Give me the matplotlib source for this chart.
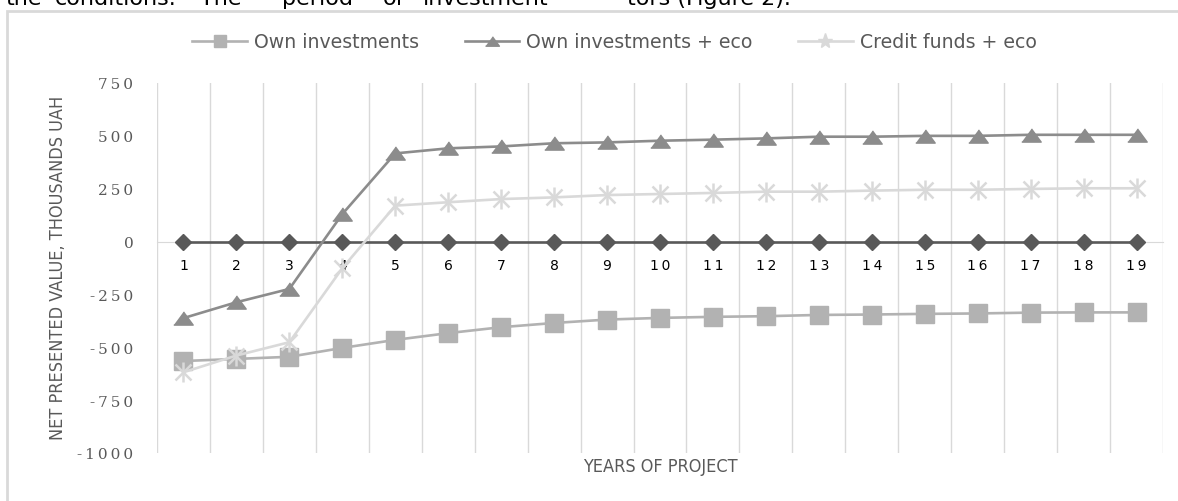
import numpy as np
import matplotlib
matplotlib.use('Agg')
import matplotlib.pyplot as plt
from matplotlib.patches import Rectangle
from matplotlib.lines import Line2D

years = list(range(1, 20))
own_inv = [-565, -555, -545, -503, -465, -433, -405, -385, -369, -361, -356, -353,
           -347, -345, -342, -340, -336, -335, -335]
own_inv_eco = [-362, -287, -224, 130, 417, 441, 450, 465, 469, 477, 482, 488,
               496, 496, 500, 500, 505, 505, 505]
credit_eco = [-618, -539, -476, -126, 170, 186, 201, 209, 220, 225, 230, 236,
              236, 241, 245, 245, 249, 252, 252]
zero_line = [0] * 19
y_ticks = [750, 500, 250, 0, -250, -500, -750, -1000]
series_names = ['Own investments', 'Own investments + eco', 'Credit funds + eco']

# words of the cropped document line above the chart, with their left edges (px)
top_words = ['conditions.', 'The', 'period', 'of', 'investment', 'tors (Figure 2).']
top_word_x = [55, 200, 282, 383, 423, 627]

W, H = 1178, 502
fig = plt.figure(figsize=(W / 100, H / 100), dpi=100)

C_SQ, C_TRI, C_STAR, C_DIA = '#b2b2b2', '#8c8c8c', '#d9d9d9', '#595959'
tri = [(-1, -0.68), (1, -0.68), (0, 0.68)]

# chart frame (light grey box)
fig.patches.append(Rectangle((7 / W, -0.1), 1.1, 1.1 - 11.5 / H, transform=fig.transFigure,
                             fill=False, edgecolor='#d9d9d9', linewidth=2))

# cropped line of document text at the very top
fig.text(42 / W, 1 - 5 / H, 'the', ha='right', va='baseline', fontsize=16, color='black')
for word, x in zip(top_words, top_word_x):
    fig.text(x / W, 1 - 5 / H, word, ha='left', va='baseline', fontsize=16, color='black')

ax = fig.add_axes([157 / W, 1 - 454 / H, 1006 / W, 370 / H])
ax.set_xlim(0.5, 19.5)
ax.set_ylim(-1000, 750)

ax.plot(years, zero_line, color=C_DIA, lw=1.9, marker='D', ms=8.5, zorder=3)
ax.plot(years, own_inv, color=C_SQ, lw=1.9, marker='s', ms=13, zorder=4)
ax.plot(years, own_inv_eco, color=C_TRI, lw=1.9, marker=tri, ms=14, zorder=4)
ax.plot(years, credit_eco, color=C_STAR, lw=1.9, marker='x', ms=11, mew=1.8, zorder=4)
ax.plot(years, credit_eco, color=C_STAR, lw=0, marker='|', ms=15, mew=1.8, zorder=4)

# vertical gridlines between categories
ax.set_xticks(np.arange(0.5, 20, 1), minor=True)
ax.grid(True, which='minor', axis='x', color='#d9d9d9', lw=1)
ax.set_xticks(years)
ax.set_xticklabels(['\u2009'.join(str(y)) for y in years])
ax.set_yticks(y_ticks)
ax.set_yticklabels(['\u2009'.join(str(v)) for v in y_ticks])
for lbl in ax.get_xticklabels() + ax.get_yticklabels():
    lbl.set_family('DejaVu Serif')
    lbl.set_fontsize(11)
    lbl.set_color('#595959')
ax.tick_params(axis='both', which='both', length=0)
ax.tick_params(axis='y', pad=17)
ax.tick_params(axis='x', pad=12)

for s in ['top', 'right', 'left']:
    ax.spines[s].set_visible(False)
ax.spines['bottom'].set_position(('data', 0))
ax.spines['bottom'].set_color('#d9d9d9')
ax.spines['bottom'].set_zorder(1)

fig.text(58 / W, 1 - 268 / H, 'NET PRESENTED VALUE, THOUSANDS UAH', rotation=90,
         ha='center', va='center', fontsize=13, family='DejaVu Sans', stretch='condensed',
         color='#595959')
fig.text(660 / W, 1 - 467 / H, 'YEARS OF PROJECT', ha='center', va='center',
         fontsize=13, family='DejaVu Sans', stretch='condensed', color='#595959')

handles = [
    Line2D([], [], color=C_SQ, lw=1.9, marker='s', ms=9),
    Line2D([], [], color=C_TRI, lw=1.9, marker=tri, ms=10),
    Line2D([], [], color=C_STAR, lw=1.9, marker='*', ms=11),
]
fig.legend(handles, series_names, loc='center left', bbox_to_anchor=(183 / W, 1 - 43 / H),
           ncol=3, frameon=False, borderpad=0, handlelength=2.9, handletextpad=0.37,
           columnspacing=2.4, prop={'family': 'DejaVu Sans', 'size': 13.6},
           labelcolor='#595959')

fig.savefig('out.png', dpi=100)
